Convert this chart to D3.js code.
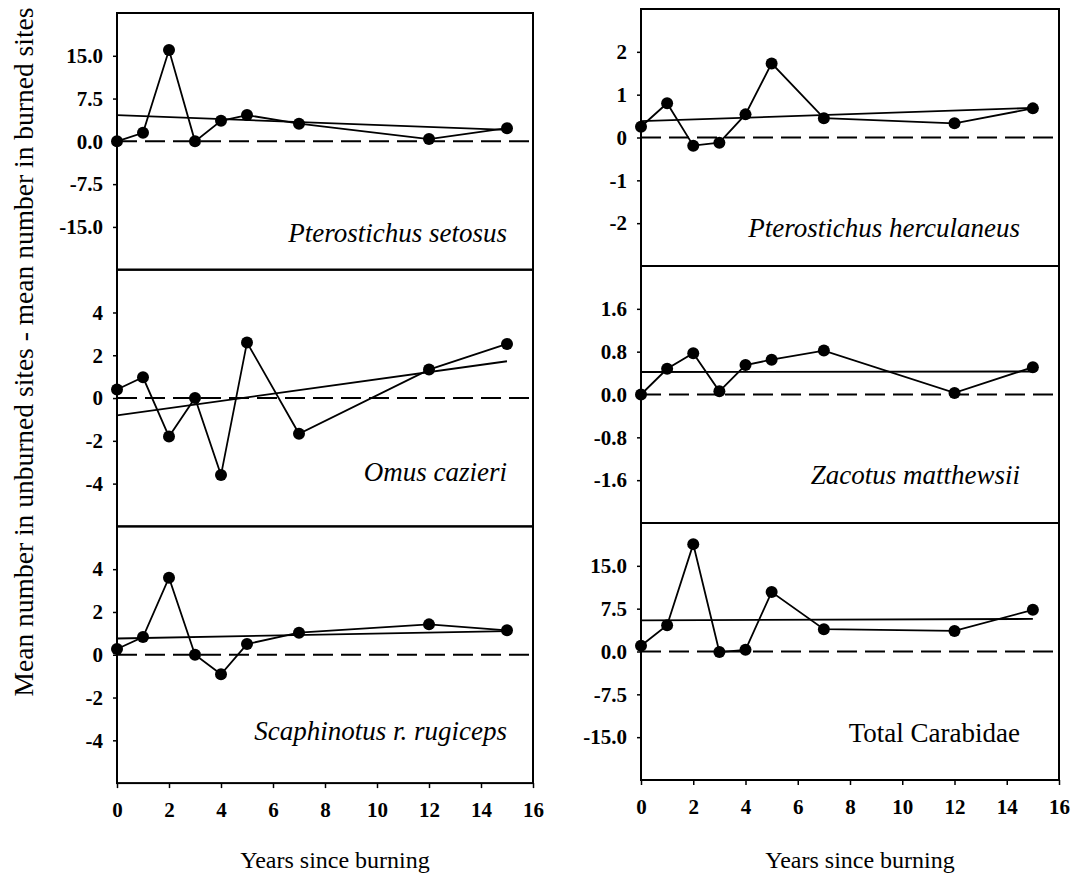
<html>
<head>
<meta charset="utf-8">
<script src="https://d3js.org/d3.v7.min.js"></script>
<style>
  body { margin: 0; background: #fff; }
  text { font-family: "Liberation Serif", "Times New Roman", serif; fill: #000; }
</style>
</head>
<body>
<svg id="chart" width="1072" height="878"></svg>
<script>
// data
var years = [0, 1, 2, 3, 4, 5, 7, 12, 15];
var xTicks = [0, 2, 4, 6, 8, 10, 12, 14, 16];

var setosus      = [0.0, 1.5, 16.0, 0.0, 3.6, 4.6, 3.1, 0.4, 2.3];
var herculaneus  = [0.25, 0.8, -0.19, -0.12, 0.54, 1.73, 0.45, 0.33, 0.68];
var cazieri      = [0.4, 0.97, -1.8, 0.0, -3.6, 2.6, -1.67, 1.33, 2.53];
var matthewsii   = [0.0, 0.48, 0.77, 0.06, 0.55, 0.65, 0.82, 0.03, 0.51];
var rugiceps     = [0.27, 0.83, 3.6, 0.0, -0.91, 0.5, 1.03, 1.42, 1.14];
var totalCarab   = [1.0, 4.6, 18.8, -0.1, 0.3, 10.4, 3.9, 3.6, 7.3];

// regression line value at year 0 and year 15
var setosusTrend     = [4.6, 2.0];
var herculaneusTrend = [0.38, 0.69];
var cazieriTrend     = [-0.81, 1.72];
var matthewsiiTrend  = [0.42, 0.43];
var rugicepsTrend    = [0.76, 1.1];
var totalTrend       = [5.45, 5.7];

var ticks75  = [-15, -7.5, 0, 7.5, 15];
var ticks1   = [-2, -1, 0, 1, 2];
var ticks2   = [-4, -2, 0, 2, 4];
var ticks08  = [-1.6, -0.8, 0, 0.8, 1.6];

var panels = [
  {name: "Pterostichus setosus", italic: true, vals: setosus, trend: setosusTrend, dom: [-22.5, 22.5], ticks: ticks75, fmt: ".1f", col: 0, row: 0, lab: 28},
  {name: "Omus cazieri", italic: true, vals: cazieri, trend: cazieriTrend, dom: [-6, 6], ticks: ticks2, fmt: "d", col: 0, row: 1, lab: 45},
  {name: "Scaphinotus r. rugiceps", italic: true, vals: rugiceps, trend: rugicepsTrend, dom: [-6, 6], ticks: ticks2, fmt: "d", col: 0, row: 2, lab: 43},
  {name: "Pterostichus herculaneus", italic: true, vals: herculaneus, trend: herculaneusTrend, dom: [-3, 3], ticks: ticks1, fmt: "d", col: 1, row: 0, lab: 29},
  {name: "Zacotus matthewsii", italic: true, vals: matthewsii, trend: matthewsiiTrend, dom: [-2.4, 2.4], ticks: ticks08, fmt: ".1f", col: 1, row: 1, lab: 39},
  {name: "Total Carabidae", italic: false, vals: totalCarab, trend: totalTrend, dom: [-22.5, 22.5], ticks: ticks75, fmt: ".1f", col: 1, row: 2, lab: 38}
];

var columns = [
  {left: 117, right: 533, top: 13, h: 256.7, labGap: 26},
  {left: 641, right: 1059, top: 9, h: 257, labGap: 39}
];

var svg = d3.select("#chart");

function styleAxis(g) {
  g.attr("font-family", null).attr("font-size", null);
  g.select(".domain").remove();
  g.selectAll("line").attr("stroke-width", 1.5);
  g.selectAll("text").style("font-size", "21px").style("font-weight", "bold");
}

columns.forEach(function(c, ci) {
  var x = d3.scaleLinear().domain([0, 16]).range([c.left, c.right]);
  var bottom = c.top + c.h * 3;

  svg.append("g")
    .attr("transform", "translate(0," + bottom + ")")
    .call(d3.axisBottom(x).tickValues(xTicks).tickSize(5).tickPadding(14).tickFormat(d3.format("d")))
    .call(styleAxis);

  svg.append("text")
    .attr("x", (c.left + c.right) / 2 + 10)
    .attr("y", 868)
    .style("text-anchor", "middle")
    .style("font-size", "24px")
    .text("Years since burning");

  panels.filter(function(p) { return p.col === ci; }).forEach(function(p) {
    var top = c.top + c.h * p.row;
    var y = d3.scaleLinear().domain(p.dom).range([top + c.h, top]);

    svg.append("g")
      .attr("transform", "translate(" + c.left + ",0)")
      .call(d3.axisLeft(y).tickValues(p.ticks).tickSize(4).tickPadding(10)
        .tickFormat(function(d) { return d3.format(p.fmt)(d).replace("\u2212", "-"); }))
      .call(styleAxis);

    // zero reference
    svg.append("line")
      .attr("x1", x(0)).attr("x2", x(16))
      .attr("y1", y(0)).attr("y2", y(0))
      .attr("stroke", "#000")
      .attr("stroke-width", 2)
      .attr("stroke-dasharray", "20,8");

    // regression line
    svg.append("line")
      .attr("x1", x(0)).attr("x2", x(15))
      .attr("y1", y(p.trend[0])).attr("y2", y(p.trend[1]))
      .attr("stroke", "#000")
      .attr("stroke-width", 1.8);

    var line = d3.line()
      .x(function(d, i) { return x(years[i]); })
      .y(function(d) { return y(d); });

    svg.append("path")
      .attr("d", line(p.vals))
      .attr("fill", "none")
      .attr("stroke", "#000")
      .attr("stroke-width", 1.8);

    svg.append("g").selectAll("circle")
      .data(p.vals)
      .enter()
      .append("circle")
      .attr("cx", function(d, i) { return x(years[i]); })
      .attr("cy", function(d) { return y(d); })
      .attr("r", 6)
      .attr("fill", "#000");

    // frame
    svg.append("rect")
      .attr("x", c.left).attr("y", top)
      .attr("width", c.right - c.left).attr("height", c.h)
      .attr("fill", "none")
      .attr("stroke", "#000")
      .attr("stroke-width", 2);

    svg.append("text")
      .attr("x", c.right - c.labGap)
      .attr("y", top + c.h - p.lab)
      .style("text-anchor", "end")
      .style("font-size", "27px")
      .style("font-style", p.italic ? "italic" : "normal")
      .text(p.name);
  });
});

svg.append("text")
  .attr("transform", "translate(33,352) rotate(-90)")
  .style("text-anchor", "middle")
  .style("font-size", "27.5px")
  .text("Mean number in unburned sites - mean number in burned sites");
</script>
</body>
</html>
